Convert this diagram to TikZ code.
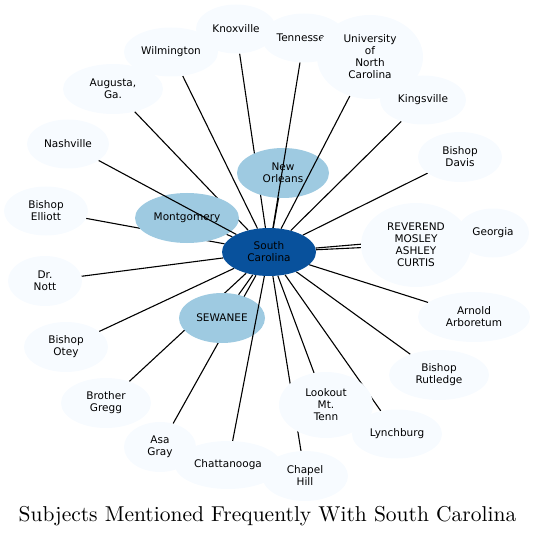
\documentclass[tikz,border=0pt]{standalone}
\usepackage{fontspec}
\usetikzlibrary{shapes.geometric,backgrounds}
\newfontfamily\labelfont{DejaVu Sans}
\definecolor{hubblue}{RGB}{8,81,156}
\definecolor{midblue}{RGB}{158,202,225}
\definecolor{paleblue}{RGB}{247,251,255}

\begin{document}
\begin{tikzpicture}[x=1pt,y=-1pt,
  subj/.style={ellipse,fill=paleblue,inner sep=0pt,align=center,minimum height=49pt,
    font=\labelfont\fontsize{10.5}{12}\selectfont},
  hot/.style={subj,fill=midblue},
  link/.style={line width=1.1pt}]
\useasboundingbox (0,0) rectangle (536,537);
% centre
\node[subj,fill=hubblue,minimum width=94pt,minimum height=48pt] (sc) at (269,252) {South\\Carolina};
% frequent ones
\node[hot,minimum width=92pt,minimum height=50pt] (neworleans) at (283,173) {New\\Orleans};
\node[hot,minimum width=104pt,minimum height=50pt] (montgomery) at (187,218) {Montgomery};
\node[hot,minimum width=86pt,minimum height=50pt] (sewanee) at (222,318) {SEWANEE};
% the rest, clockwise from the top
\node[subj,minimum width=80pt] (knoxville) at (236,29) {Knoxville};
\node[subj,minimum width=84pt] (tennessee) at (304,38) {Tennessee};
\node[subj,minimum width=106pt,minimum height=84pt] (unc) at (370,57) {University\\of\\North\\Carolina};
\node[subj,minimum width=86pt] (kingsville) at (423,100) {Kingsville};
\node[subj,minimum width=84pt,minimum height=50pt] (davis) at (460,157) {Bishop\\Davis};
\node[subj,minimum width=72pt] (georgia) at (493,233) {Georgia};
\node[subj,minimum width=110pt,minimum height=84pt] (curtis) at (416,245) {REVEREND\\MOSLEY\\ASHLEY\\CURTIS};
\node[subj,minimum width=112pt,minimum height=50pt] (arnold) at (474,317) {Arnold\\Arboretum};
\node[subj,minimum width=100pt,minimum height=50pt] (rutledge) at (439,375) {Bishop\\Rutledge};
\node[subj,minimum width=90pt] (lynchburg) at (397,434) {Lynchburg};
\node[subj,minimum width=94pt,minimum height=66pt] (lookout) at (326,405) {Lookout\\Mt.\\Tenn};
\node[subj,minimum width=86pt,minimum height=50pt] (chapelhill) at (305,476) {Chapel\\Hill};
\node[subj,minimum width=106pt,minimum height=48pt] (chattanooga) at (228,465) {Chattanooga};
\node[subj,minimum width=72pt,minimum height=50pt] (asagray) at (160,447) {Asa\\Gray};
\node[subj,minimum width=90pt,minimum height=50pt] (gregg) at (106,403) {Brother\\Gregg};
\node[subj,minimum width=84pt,minimum height=50pt] (otey) at (66,347) {Bishop\\Otey};
\node[subj,minimum width=74pt,minimum height=50pt] (nott) at (45,281) {Dr.\\Nott};
\node[subj,minimum width=84pt] (elliott) at (46,211) {Bishop\\Elliott};
\node[subj,minimum width=82pt] (nashville) at (68,144) {Nashville};
\node[subj,minimum width=100pt,minimum height=50pt] (augusta) at (113,89) {Augusta,\\Ga.};
\node[subj,minimum width=94pt] (wilmington) at (171,52) {Wilmington};
% spokes: most run under the ellipses, four cross over them
\begin{pgfonlayer}{background}
\foreach \n in {neworleans,montgomery,sewanee,knoxville,kingsville,davis,georgia,curtis,arnold,
  rutledge,lynchburg,lookout,chapelhill,asagray,gregg,otey,nott,elliott,augusta,wilmington}
  \draw[link] (sc) -- (\n);
\end{pgfonlayer}
\foreach \n in {tennessee,unc,chattanooga,nashville}
  \draw[link] (sc) -- (\n);
\node (title) at (267.5,516) {\scalebox{2.15}{Subjects Mentioned Frequently With South Carolina}};
\end{tikzpicture}
\end{document}
